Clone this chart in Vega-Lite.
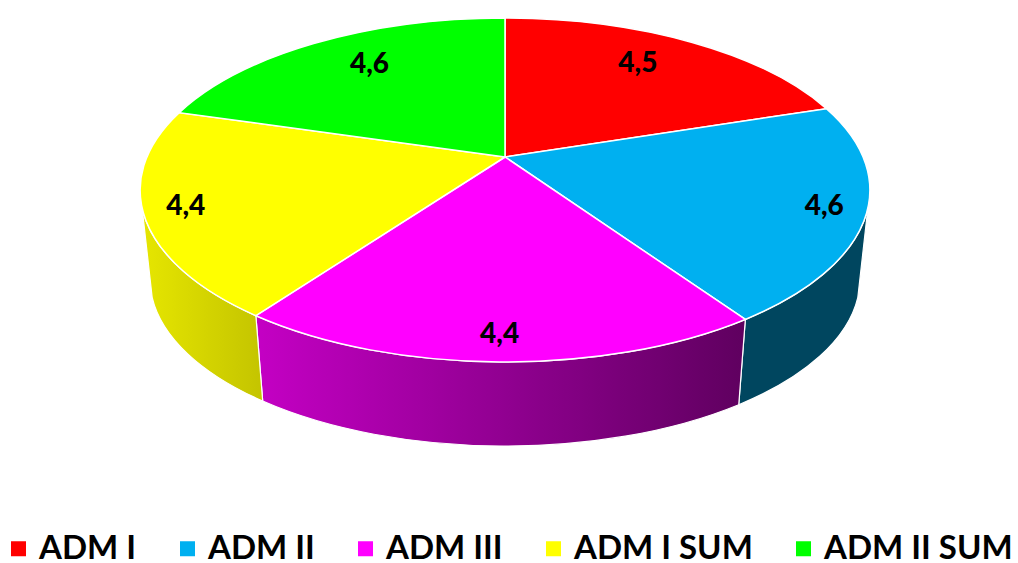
{
"$schema":"https://vega.github.io/schema/vega-lite/v6.json",
"width":1018,"height":563,"padding":0,"autosize":{"type":"none"},
"background":"white",
"config":{"view":{"stroke":null}},
"data":{"values":[
{"series":"ADM I","o":1,"value":4.5},
{"series":"ADM II","o":2,"value":4.6},
{"series":"ADM III","o":3,"value":4.4},
{"series":"ADM I SUM","o":4,"value":4.4},
{"series":"ADM II SUM","o":5,"value":4.6}
]},
"transform":[
{"stack":"value","groupby":[],"offset":"normalize","sort":[{"field":"o","order":"ascending"}],"as":["f0","f1"]},
{"calculate":"2*PI*datum.f0","as":"th0"},
{"calculate":"2*PI*datum.f1","as":"th1"},
{"calculate":"round(100*358*sin(datum.th0)/(1+0.192*cos(datum.th0)))/100","as":"x0"},
{"calculate":"round(100*((157-135.55*cos(datum.th0))/(1+0.192*cos(datum.th0))-157))/100","as":"y0"},
{"calculate":"round(100*358*sin(datum.th1)/(1+0.192*cos(datum.th1)))/100","as":"x1"},
{"calculate":"round(100*((157-135.55*cos(datum.th1))/(1+0.192*cos(datum.th1))-157))/100","as":"y1"},
{"calculate":"'M0 0L'+datum.x0+' '+datum.y0+'A365 172 0 0 1 '+datum.x1+' '+datum.y1+'Z'","as":"topPath"},
{"calculate":"atan2((datum.y0-33)/172,datum.x0/365)","as":"t0raw"},
{"calculate":"atan2((datum.y1-33)/172,datum.x1/365)","as":"t1raw"},
{"calculate":"max(datum.t0raw<-PI/2+0.001?datum.t0raw+2*PI:datum.t0raw,0.11)","as":"ta"},
{"calculate":"min(datum.t1raw<-PI/2+0.001?datum.t1raw+2*PI:datum.t1raw,PI-0.11)","as":"tb"},
{"calculate":"'M'+round(36500*cos(datum.ta))/100+' '+round(100*(33+172*sin(datum.ta)))/100+'A365 172 0 0 1 '+round(36500*cos(datum.tb))/100+' '+round(100*(33+172*sin(datum.tb)))/100+'L'+round(35500*cos(datum.tb))/100+' '+round(100*(122+167*sin(datum.tb)))/100+'A355 167 0 0 0 '+round(35500*cos(datum.ta))/100+' '+round(100*(122+167*sin(datum.ta)))/100+'Z'","as":"wallPath"},
{"calculate":"(datum.th0+datum.th1)/2","as":"mid"},
{"calculate":"cos(datum.mid)>0?0.7:0.89","as":"r"},
{"calculate":"358*datum.r*sin(datum.mid)/(1+0.192*datum.r*cos(datum.mid))","as":"lx"},
{"calculate":"(157-135.55*datum.r*cos(datum.mid))/(1+0.192*datum.r*cos(datum.mid))-157-(cos(datum.mid)>0?8:0)","as":"ly"},
{"calculate":"replace(format(datum.value,'.1f'),'.',',')","as":"label"},
{"calculate":"0","as":"origin"}
],
"layer":[
{"transform":[{"filter":"datum.series==='ADM II'"}],
 "mark":{"type":"point","filled":true,"opacity":1,"color":"#00465f","stroke":"white","strokeWidth":1.2},
 "encoding":{
  "x":{"field":"origin","type":"quantitative","scale":{"domain":[-505,513],"range":[0,1018]},"axis":null},
  "y":{"field":"origin","type":"quantitative","scale":{"domain":[-157,406],"range":[0,563]},"axis":null},
  "shape":{"field":"wallPath","type":"nominal","scale":null},"size":{"value":4}}},
{"transform":[{"filter":"datum.series==='ADM III'"}],
 "mark":{"type":"point","filled":true,"opacity":1,"stroke":"white","strokeWidth":1.2,
  "color":{"gradient":"linear","x1":0,"y1":0,"x2":1,"y2":0,"stops":[{"offset":0,"color":"#c400c4"},{"offset":1,"color":"#5f005f"}]}},
 "encoding":{
  "x":{"field":"origin","type":"quantitative","scale":{"domain":[-505,513],"range":[0,1018]},"axis":null},
  "y":{"field":"origin","type":"quantitative","scale":{"domain":[-157,406],"range":[0,563]},"axis":null},
  "shape":{"field":"wallPath","type":"nominal","scale":null},"size":{"value":4}}},
{"transform":[{"filter":"datum.series==='ADM I SUM'"}],
 "mark":{"type":"point","filled":true,"opacity":1,"stroke":"white","strokeWidth":1.2,
  "color":{"gradient":"linear","x1":0,"y1":0,"x2":1,"y2":0,"stops":[{"offset":0,"color":"#e6e600"},{"offset":1,"color":"#c4c400"}]}},
 "encoding":{
  "x":{"field":"origin","type":"quantitative","scale":{"domain":[-505,513],"range":[0,1018]},"axis":null},
  "y":{"field":"origin","type":"quantitative","scale":{"domain":[-157,406],"range":[0,563]},"axis":null},
  "shape":{"field":"wallPath","type":"nominal","scale":null},"size":{"value":4}}},
{"mark":{"type":"point","filled":true,"opacity":1,"stroke":"white","strokeWidth":1.5},
 "encoding":{
  "x":{"field":"origin","type":"quantitative","scale":{"domain":[-505,513],"range":[0,1018]},"axis":null},
  "y":{"field":"origin","type":"quantitative","scale":{"domain":[-157,406],"range":[0,563]},"axis":null},
  "shape":{"field":"topPath","type":"nominal","scale":null},
  "size":{"value":4},
  "color":{"field":"series","type":"nominal",
   "scale":{"domain":["ADM I","ADM II","ADM III","ADM I SUM","ADM II SUM"],"range":["#ff0000","#00b0f0","#ff00ff","#ffff00","#00ff00"]},
   "legend":{"title":null,"orient":"none","legendX":2,"legendY":532,"direction":"horizontal","columns":5,"columnPadding":34,
    "symbolType":"square","symbolSize":225,"symbolOpacity":1,"symbolStrokeWidth":0,"labelOffset":4,
    "labelFont":"Lato","labelFontWeight":"bold","labelFontSize":33,"labelColor":"#000000","labelLimit":400,"labelBaseline":"middle"}}}},
{"mark":{"type":"text","font":"Lato","fontWeight":900,"fontSize":28,"color":"#000000","align":"center","baseline":"middle"},
 "encoding":{
  "x":{"field":"lx","type":"quantitative","scale":{"domain":[-505,513],"range":[0,1018]},"axis":null},
  "y":{"field":"ly","type":"quantitative","scale":{"domain":[-157,406],"range":[0,563]},"axis":null},
  "text":{"field":"label","type":"nominal"}}}
]
}
